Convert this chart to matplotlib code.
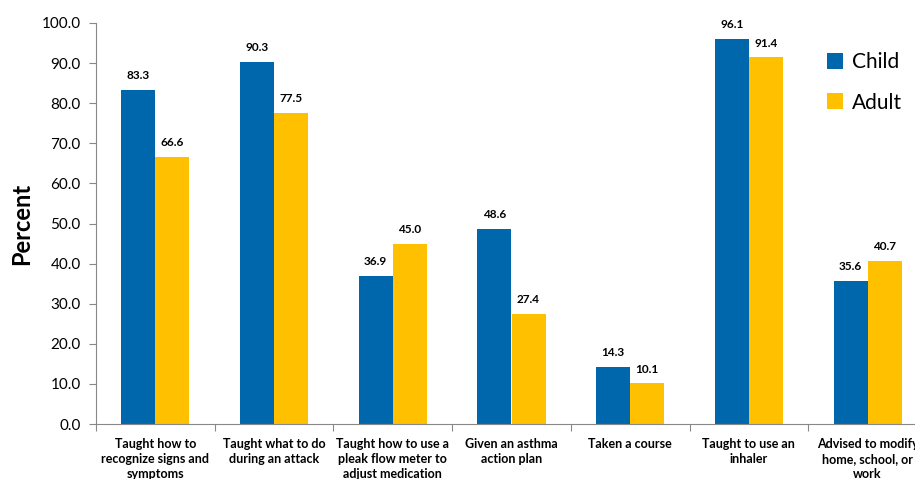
import matplotlib
matplotlib.use("Agg")
import matplotlib.pyplot as plt
import numpy as np

categories = ["Taught how to\nrecognize signs and\nsymptoms",
              "Taught what to do\nduring an attack",
              "Taught how to use a\npleak flow meter to\nadjust medication",
              "Given an asthma\naction plan",
              "Taken a course",
              "Taught to use an\ninhaler",
              "Advised to modify\nhome, school, or\nwork"]
child = [83.3, 90.3, 36.9, 48.6, 14.3, 96.1, 35.6]
adult = [66.6, 77.5, 45.0, 27.4, 10.1, 91.4, 40.7]

plt.rcParams['font.family'] = ['Lato', 'DejaVu Sans']

fig = plt.figure(figsize=(9.15, 4.79), dpi=100)
W, H = 915, 479
ax = fig.add_axes([96 / W, 1 - 424 / H, (927 - 96) / W, (424 - 23) / H])

x = np.arange(len(categories))
w = 0.287
b1 = ax.bar(x - w / 2, child, w, color="#0067AC", label="Child")
b2 = ax.bar(x + w / 2, adult, w, color="#FFC000", label="Adult")

for bars, vals in ((b1, child), (b2, adult)):
    for r, v in zip(bars, vals):
        ax.text(r.get_x() + r.get_width() / 2, v + 2.2, "%.1f" % v,
                ha="center", va="bottom", fontsize=8.5, fontweight="bold")

ax.set_xlim(-0.5, len(categories) - 0.5)
ax.set_ylim(0, 100)
ax.set_yticks(np.arange(0, 101, 10))
ax.set_yticklabels(["%.1f" % t for t in np.arange(0, 101, 10)], fontsize=11)
ax.set_xticks(np.arange(-0.5, len(categories), 1))
ax.set_xticklabels([])
ax.tick_params(axis="x", length=5, color="#888888", direction="out")
ax.tick_params(axis="y", length=5, color="#888888", direction="out", pad=6)

# category names sit under the bars, the last one runs off the edge like the original
for i, c in enumerate(categories):
    ax.text(i, -3.6, c, ha="center", va="top", fontsize=9, fontweight="bold",
            linespacing=1.3, clip_on=False)

for s in ["top", "right"]:
    ax.spines[s].set_visible(False)
for s in ["left", "bottom"]:
    ax.spines[s].set_color("#888888")

ax.set_ylabel("Percent", fontsize=17, fontweight="bold", labelpad=6)

ax.legend(loc="upper left", bbox_to_anchor=((808 - 96) / (927 - 96), 0.975),
          frameon=False, fontsize=15, handlelength=0.8, handleheight=0.8,
          handletextpad=0.4, labelspacing=1.0)

fig.savefig("out.png", dpi=100)
